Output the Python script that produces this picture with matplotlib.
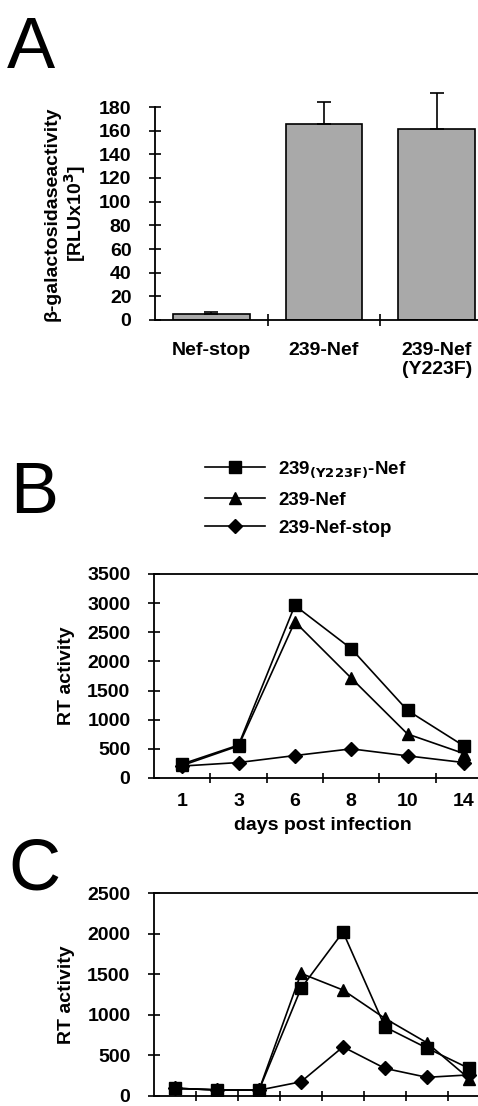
import matplotlib
matplotlib.use('Agg')
import matplotlib.pyplot as plt
import numpy as np

plt.rcParams['font.family'] = ['Liberation Sans', 'DejaVu Sans']
plt.rcParams['font.weight'] = 'bold'

# panel A data
a_labels = ['Nef-stop', '239-Nef', '239-Nef\n(Y223F)']
a_values = [5, 165.5, 161]
a_errors = [1.5, 19, 31]

# panel B data
b_days = ['1', '3', '6', '8', '10', '14']
b_y223f = [240, 565, 2960, 2220, 1160, 550]
b_nef = [215, 550, 2680, 1715, 755, 420]
b_stop = [205, 265, 385, 500, 380, 265]

# panel C data (8 time points, labels not visible)
c_y223f = [95, 75, 72, 1325, 2020, 850, 590, 340]
c_nef = [95, 75, 72, 1510, 1305, 955, 655, 215]
c_stop = [95, 75, 72, 175, 605, 340, 230, 260]

series_names = ['239$_{(\\mathbf{Y223F})}$-Nef', '239-Nef', '239-Nef-stop']

fig = plt.figure(figsize=(4.78, 11.06), dpi=100)
W, H = 478, 1106

def box(left, top, right, bottom):
    return [left / W, 1 - bottom / H, (right - left) / W, (bottom - top) / H]

tick_fs = 14

# ---- A ----
axA = fig.add_axes(box(155, 107, 493, 320))
xa = np.arange(len(a_labels))
bars = axA.bar(xa, a_values, width=0.68, color='#a9a9a9', edgecolor='black', linewidth=1.2,
               yerr=[np.zeros(3), a_errors], capsize=5,
               error_kw=dict(elinewidth=1.2, capthick=1.2, ecolor='black'))
for child in bars.errorbar.get_children():
    child.set_clip_on(False)
axA.set_xlim(-0.5, 2.5)
axA.set_ylim(0, 180)
axA.set_yticks(range(0, 181, 20))
axA.set_xticks([0.5, 1.5])
axA.set_xticklabels([])
axA.tick_params(axis='x', which='major', direction='inout', length=8, width=1.2)
for i, lab in enumerate(a_labels):
    axA.text(i, -19, lab, ha='center', va='top', fontsize=tick_fs, fontweight='bold',
             linespacing=1.15)
axA.spines['top'].set_visible(False)
axA.spines['right'].set_visible(False)
axA.tick_params(axis='y', direction='inout', length=8, width=1.2, labelsize=tick_fs, pad=13)
axA.set_ylabel('β-galactosidaseactivity\n[RLUx10$^\\mathbf{3}$]', fontsize=14,
               fontweight='bold', labelpad=8, linespacing=1.05)
for s in axA.spines.values():
    s.set_linewidth(1.3)

fig.text(7 / W, 1 - 68 / H, 'A', fontsize=52, fontweight='normal', ha='left', va='baseline')

# ---- B ----
axB = fig.add_axes(box(154, 574, 492, 778))
xb = np.arange(len(b_days))
lB1, = axB.plot(xb, b_y223f, color='black', lw=1.2, marker='s', ms=8.5)
lB2, = axB.plot(xb, b_nef, color='black', lw=1.2, marker='^', ms=9)
lB3, = axB.plot(xb, b_stop, color='black', lw=1.2, marker='D', ms=7)
axB.set_xlim(-0.5, len(b_days) - 0.5)
axB.set_ylim(0, 3500)
axB.set_yticks(range(0, 3501, 500))
axB.set_xticks(xb)
axB.set_xticklabels(b_days, fontsize=tick_fs, fontweight='bold')
axB.set_xticks(np.arange(0.5, len(b_days) - 1, 1), minor=True)
axB.tick_params(axis='x', which='major', length=0, pad=11)
axB.tick_params(axis='x', which='minor', direction='inout', length=7, width=1.2)
axB.tick_params(axis='y', direction='inout', length=8, width=1.2, labelsize=tick_fs, pad=13)
axB.set_ylabel('RT activity', fontsize=14, fontweight='bold', labelpad=9)
axB.set_xlabel('days post infection', fontsize=14, fontweight='bold', labelpad=5)
for s in axB.spines.values():
    s.set_linewidth(1.3)

fig.text(10 / W, 1 - 513 / H, 'B', fontsize=52, fontweight='normal', ha='left', va='baseline')

fig.legend([lB1, lB2, lB3], series_names, loc='upper left',
           bbox_to_anchor=(205 / W, 1 - 460 / H), frameon=False,
           handlelength=3.2, handletextpad=0.7, labelspacing=0.6, borderpad=0,
           borderaxespad=0, prop={'weight': 'bold', 'size': 13.5})

# ---- C ----
axC = fig.add_axes(box(154, 893, 490, 1096))
xc = np.arange(len(c_y223f))
axC.plot(xc, c_stop, color='black', lw=1.2, marker='D', ms=7)
axC.plot(xc, c_nef, color='black', lw=1.2, marker='^', ms=9)
axC.plot(xc, c_y223f, color='black', lw=1.2, marker='s', ms=8.5)
axC.set_xlim(-0.5, len(c_y223f) - 0.5)
axC.set_ylim(0, 2500)
axC.set_yticks(range(0, 2501, 500))
axC.set_xticks(np.arange(0.5, len(c_y223f) - 1, 1))
axC.set_xticklabels([])
axC.tick_params(axis='x', direction='inout', length=7, width=1.2)
axC.tick_params(axis='y', direction='inout', length=8, width=1.2, labelsize=tick_fs, pad=13)
axC.set_ylabel('RT activity', fontsize=14, fontweight='bold', labelpad=9)
for s in axC.spines.values():
    s.set_linewidth(1.3)

fig.text(8 / W, 1 - 890 / H, 'C', fontsize=52, fontweight='normal', ha='left', va='baseline')

fig.savefig('out.png', dpi=100)
